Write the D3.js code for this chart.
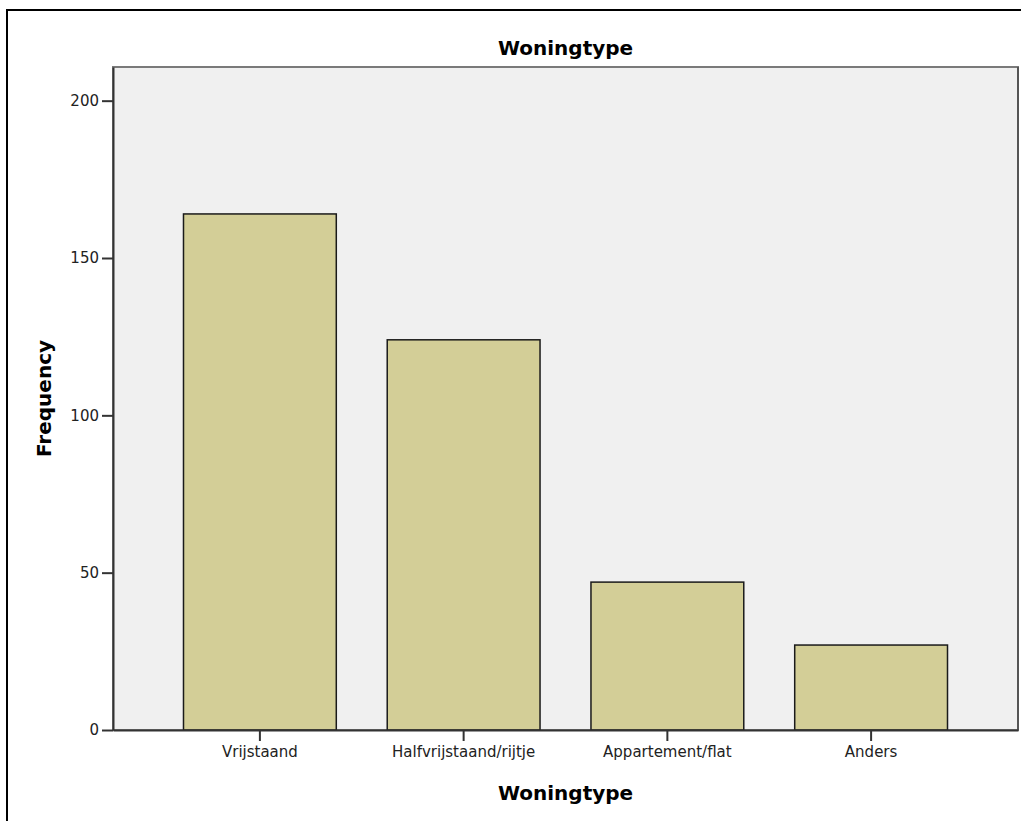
<!DOCTYPE html>
<html>
<head>
<meta charset="utf-8">
<script src="https://cdn.jsdelivr.net/npm/d3@7"></script>
<style>
  body { margin: 0; background: #fff; }
  svg { display: block; }
</style>
</head>
<body>
<div id="chart"></div>
<script>
// data
let categories = ['Vrijstaand', 'Halfvrijstaand/rijtje', 'Appartement/flat', 'Anders']
let frequencies = [164, 124, 47, 27]
let yTicks = [0, 50, 100, 150, 200]
let chartTitle = 'Woningtype'
let xTitle = 'Woningtype'
let yTitle = 'Frequency'

let width = 1021, height = 821
let plot = { left: 113, right: 1018, top: 67, bottom: 730 }

let svg = d3.select('#chart').append('svg')
    .attr('width', width)
    .attr('height', height)

// outer frame (runs off the right and bottom edge)
svg.append('rect')
    .attr('x', 7).attr('y', 10)
    .attr('width', 1100).attr('height', 1000)
    .attr('fill', 'none')
    .attr('stroke', '#000')
    .attr('stroke-width', 2)

let x = d3.scaleBand()
    .domain(categories)
    .range([plot.left, plot.right])
    .paddingInner(0.25)
    .paddingOuter(0.346)

let y = d3.scaleLinear()
    .domain([0, 210.7])
    .range([plot.bottom, plot.top])

// plot background
svg.append('rect')
    .attr('x', plot.left).attr('y', plot.top)
    .attr('width', plot.right - plot.left)
    .attr('height', plot.bottom - plot.top)
    .attr('fill', '#f0f0f0')
    .attr('stroke', '#7a7a7a')
    .attr('stroke-width', 2)

// darker right edge
svg.append('line')
    .attr('x1', plot.right).attr('x2', plot.right)
    .attr('y1', plot.top).attr('y2', plot.bottom)
    .attr('stroke', '#555').attr('stroke-width', 2)

// bars
svg.selectAll('rect.bar')
    .data(frequencies)
    .enter()
    .append('rect')
    .attr('class', 'bar')
    .attr('x', (d, i) => x(categories[i]))
    .attr('y', d => y(d))
    .attr('width', x.bandwidth())
    .attr('height', d => y(0) - y(d))
    .attr('fill', '#d3ce97')
    .attr('stroke', '#1a1a1a')
    .attr('stroke-width', 1.5)

// y axis
let yAxis = svg.append('g')
    .attr('transform', `translate(${plot.left},0)`)
    .call(d3.axisLeft(y).tickValues(yTicks).tickSize(11).tickPadding(3).tickSizeOuter(0))
yAxis.select('.domain').attr('stroke', '#333').attr('stroke-width', 2)
yAxis.selectAll('.tick line').attr('stroke', '#333').attr('stroke-width', 2)
yAxis.selectAll('.tick text')
    .attr('font-family', 'DejaVu Sans')
    .attr('font-size', 15)
    .attr('fill', '#222')

// x axis
let xAxis = svg.append('g')
    .attr('transform', `translate(0,${plot.bottom})`)
    .call(d3.axisBottom(x).tickSize(11).tickPadding(5).tickSizeOuter(0))
xAxis.select('.domain').attr('stroke', '#333').attr('stroke-width', 2)
xAxis.selectAll('.tick line').attr('stroke', '#333').attr('stroke-width', 2)
xAxis.selectAll('.tick text')
    .attr('font-family', 'DejaVu Sans')
    .attr('font-size', 15)
    .attr('fill', '#222')

// titles
svg.append('text')
    .attr('x', (plot.left + plot.right) / 2)
    .attr('y', 55)
    .attr('text-anchor', 'middle')
    .attr('font-family', 'DejaVu Sans')
    .attr('font-weight', 'bold')
    .attr('font-size', 20)
    .text(chartTitle)

svg.append('text')
    .attr('x', (plot.left + plot.right) / 2)
    .attr('y', 800)
    .attr('text-anchor', 'middle')
    .attr('font-family', 'DejaVu Sans')
    .attr('font-weight', 'bold')
    .attr('font-size', 20)
    .text(xTitle)

svg.append('text')
    .attr('transform', `translate(51,${(plot.top + plot.bottom) / 2}) rotate(-90)`)
    .attr('text-anchor', 'middle')
    .attr('font-family', 'DejaVu Sans')
    .attr('font-weight', 'bold')
    .attr('font-size', 20)
    .text(yTitle)
</script>
</body>
</html>
